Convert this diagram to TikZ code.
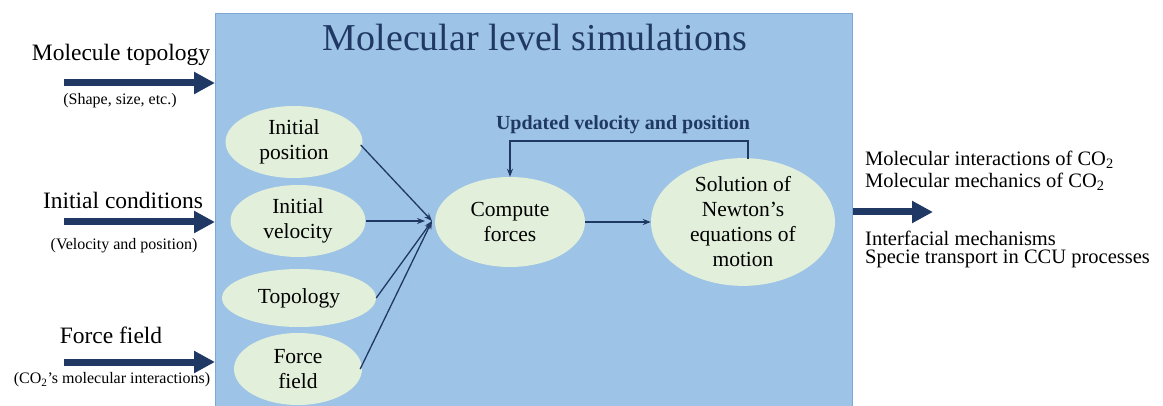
\documentclass[tikz,border=0pt]{standalone}
\usepackage{fontspec}
\setmainfont{Liberation Serif}
\usetikzlibrary{arrows.meta,shapes.geometric,calc}
\definecolor{boxblue}{HTML}{9DC3E6}
\definecolor{boxedge}{HTML}{7FA7D6}
\definecolor{ellgreen}{HTML}{E2EFDA}
\definecolor{navy}{HTML}{203864}
\tikzset{
  ell/.style={ellipse, fill=ellgreen, inner sep=0pt, align=center,
    font=\fontsize{21.5}{25}\selectfont},
  conn/.style={draw=navy, line width=1.3pt, -{Stealth[length=8pt,width=6pt]}},
  bigarrow/.style={draw=navy, line width=7pt, -{Triangle[length=21pt,width=21pt]}},
  lab/.style={inner sep=0pt, font=\fontsize{23.5}{27}\selectfont},
  sublab/.style={inner sep=0pt, font=\fontsize{16}{19}\selectfont},
  outlab/.style={inner sep=0pt, anchor=west, font=\fontsize{20.5}{24}\selectfont},
}
\begin{document}
\begin{tikzpicture}[x=1pt,y=-1pt]
\useasboundingbox (0,0) rectangle (1163,406);
% main box
\node[draw=boxedge, line width=0.8pt, fill=boxblue, minimum width=637pt, minimum height=400pt,
  inner sep=0pt, anchor=north west] (box) at (215,13) {};
\node[inner sep=0pt, text=navy, font=\fontsize{38}{44}\selectfont] (title) at (535,38) {Molecular level simulations};

% ellipses
\node[ell, minimum width=137pt, minimum height=72pt] (ip) at (294,142) {Initial\\position};
\node[ell, minimum width=135pt, minimum height=72pt] (iv) at (298,221) {Initial\\velocity};
\node[ell, minimum width=154pt, minimum height=58pt] (tp) at (299,298) {Topology};
\node[ell, minimum width=128pt, minimum height=72pt] (ff) at (298,369) {Force\\field};
\node[ell, minimum width=150pt, minimum height=90pt] (cf) at (510,222) {Compute\\forces};
\node[ell, minimum width=184pt, minimum height=119pt] (sol) at (743,222) {Solution of\\Newton’s\\equations of\\motion};

% connectors into compute forces
\coordinate (cin) at (432,221);
\draw[conn] (ip.east) ++(-2,3) -- (cin);
\draw[conn] (iv.east) -- ($(cin)+(-7,0)$);
\draw[conn] (tp.east) -- (cin);
\draw[conn] (ff.east) ++(-2,0) -- (cin);
\draw[conn] (cf.east) -- (sol.west);
\draw[conn] ($(sol.north)+(5,1)$) |- (510,141) -- (cf.north);
\node[inner sep=0pt, text=navy, font=\bfseries\fontsize{20}{24}\selectfont] (upd) at (623,125) {Updated velocity and position};

% left inputs
\node[lab] (mt) at (121,55) {Molecule topology};
\node[sublab] (mts) at (120,101) {(Shape, size, etc.)};
\coordinate (a1) at (64,83);
\draw[bigarrow] (a1) -- (a1 -| box.west);

\node[lab] (ic) at (123,200) {Initial conditions};
\node[sublab] (ics) at (124,246) {(Velocity and position)};
\coordinate (a2) at (64,222);
\draw[bigarrow] (a2) -- (a2 -| box.west);

\node[lab] (fft) at (111,335) {Force field};
\node[sublab] (ffs) at (112,380) {(CO\textsubscript{2}’s molecular interactions)};
\coordinate (a3) at (64,362);
\draw[bigarrow] (a3) -- (a3 -| box.west);

% output
\coordinate (o1) at (933,212);
\draw[bigarrow] (o1 -| box.east) -- (o1);
\node[outlab] (r1) at (865,160) {Molecular interactions of CO\textsubscript{2}};
\node[outlab] (r2) at (865,182) {Molecular mechanics of CO\textsubscript{2}};
\node[outlab] (r3) at (865,238) {Interfacial mechanisms};
\node[outlab] (r4) at (865,259) {Specie transport in CCU processes};
\end{tikzpicture}
\end{document}
